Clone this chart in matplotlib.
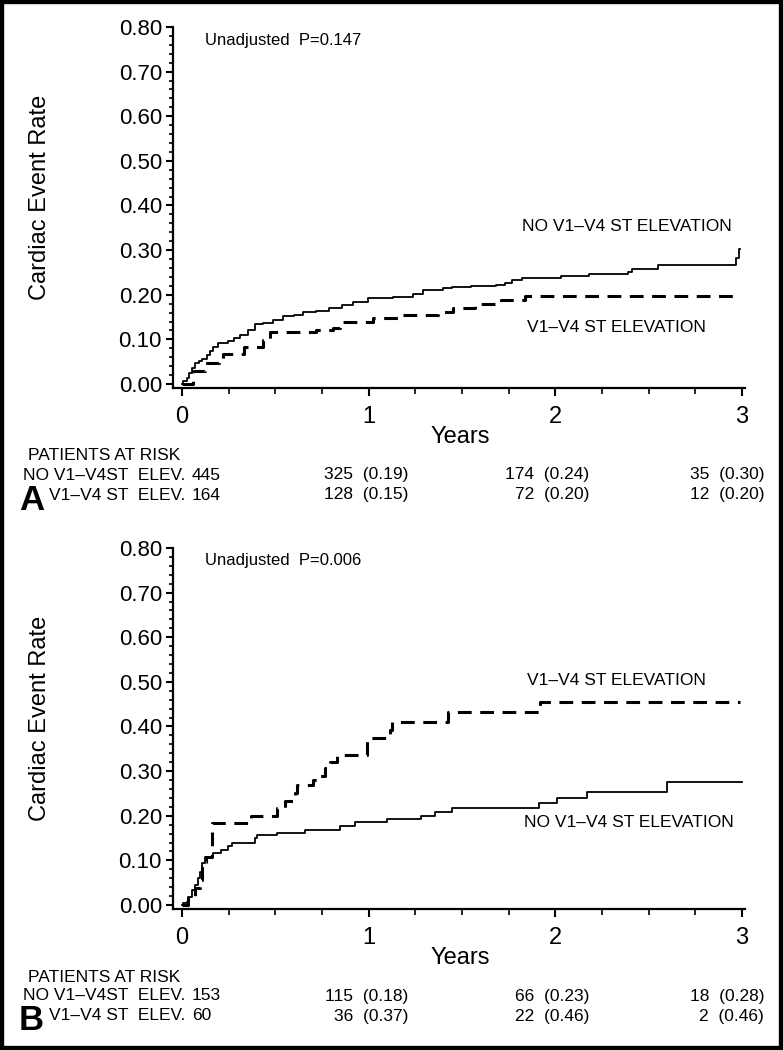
import matplotlib
matplotlib.use('Agg')
import matplotlib.pyplot as plt
from matplotlib.patches import Rectangle
from matplotlib.ticker import MultipleLocator, FormatStrFormatter

plt.rcParams['font.family'] = ['Liberation Sans', 'DejaVu Sans']

# Panel A curves (years, cumulative event rate)
a_no_t = [0, 0.007, 0.025, 0.04, 0.052, 0.07, 0.09, 0.105, 0.132, 0.15, 0.168, 0.195,
          0.248, 0.28, 0.31, 0.355, 0.39, 0.435, 0.49, 0.543, 0.60, 0.65, 0.72, 0.79,
          0.855, 0.918, 0.998, 1.13, 1.24, 1.29, 1.40, 1.445, 1.55, 1.68, 1.73, 1.77,
          1.82, 2.03, 2.18, 2.39, 2.41, 2.55, 2.97, 2.985, 2.99]
a_no_r = [0, 0.006, 0.013, 0.025, 0.035, 0.046, 0.052, 0.056, 0.065, 0.075, 0.084, 0.091,
          0.096, 0.103, 0.11, 0.121, 0.134, 0.137, 0.143, 0.152, 0.155, 0.162, 0.164, 0.17,
          0.177, 0.183, 0.192, 0.196, 0.201, 0.211, 0.214, 0.217, 0.22, 0.222, 0.227, 0.233,
          0.238, 0.242, 0.247, 0.251, 0.257, 0.266, 0.282, 0.302, 0.302]
a_st_t = [0, 0.06, 0.123, 0.2, 0.22, 0.33, 0.435, 0.47, 0.72, 0.81, 0.846, 1.025, 1.16,
          1.37, 1.45, 1.57, 1.71, 1.84, 2.99]
a_st_r = [0, 0.028, 0.048, 0.054, 0.067, 0.084, 0.099, 0.117, 0.121, 0.125, 0.14, 0.147,
          0.155, 0.162, 0.17, 0.179, 0.188, 0.198, 0.198]

# Panel B curves
b_no_t = [0, 0.007, 0.025, 0.034, 0.052, 0.07, 0.087, 0.096, 0.105, 0.123, 0.168, 0.21,
          0.248, 0.266, 0.39, 0.40, 0.507, 0.66, 0.846, 0.927, 1.096, 1.28, 1.355, 1.445,
          1.91, 2.01, 2.17, 2.60, 3.0]
b_no_r = [0, 0.004, 0.007, 0.019, 0.034, 0.045, 0.06, 0.075, 0.093, 0.107, 0.116, 0.123,
          0.132, 0.138, 0.15, 0.157, 0.162, 0.168, 0.176, 0.185, 0.192, 0.2, 0.209, 0.218,
          0.228, 0.239, 0.254, 0.276, 0.276]
b_st_t = [0, 0.034, 0.07, 0.096, 0.105, 0.13, 0.16, 0.37, 0.507, 0.55, 0.605, 0.614,
          0.703, 0.74, 0.766, 0.793, 0.829, 0.99, 1.114, 1.123, 1.427, 1.917, 2.99]
b_st_r = [0, 0.019, 0.037, 0.056, 0.097, 0.108, 0.183, 0.2, 0.217, 0.234, 0.252, 0.269,
          0.28, 0.288, 0.306, 0.321, 0.336, 0.374, 0.392, 0.41, 0.433, 0.456, 0.456]

# patients at risk at 0, 1, 2, 3 years and event rate at 1, 2, 3 years
a_no_n = [445, 325, 174, 35]
a_no_p = [0.19, 0.24, 0.30]
a_st_n = [164, 128, 72, 12]
a_st_p = [0.15, 0.20, 0.20]
b_no_n = [153, 115, 66, 18]
b_no_p = [0.18, 0.23, 0.28]
b_st_n = [60, 36, 22, 2]
b_st_p = [0.37, 0.46, 0.46]

p_values = ['0.147', '0.006']
letters = ['A', 'B']
no_label = 'NO V1\u2013V4 ST ELEVATION'
st_label = 'V1\u2013V4 ST ELEVATION'

W, H = 783, 1050
fig = plt.figure(figsize=(W / 100, H / 100), dpi=100)


def fx(x):
    return x / W


def fy(y):
    return 1 - y / H


def panel(off, letter, pval, no_t, no_r, st_t, st_r, no_xy, st_xy,
          no_n, no_p, st_n, st_p):
    ax = fig.add_axes([fx(173), fy(388 + off), 572 / W, 361 / H])
    ax.step(no_t, no_r, where='post', color='black', lw=1.3)
    ax.step(st_t, st_r, where='post', color='black', lw=2.2,
            linestyle=(0, (4.5, 2.8)))
    ax.set_xlim(-0.048, 3.016)
    ax.set_ylim(-0.009, 0.80)
    for s in ['top', 'right']:
        ax.spines[s].set_visible(False)
    for s in ['left', 'bottom']:
        ax.spines[s].set_linewidth(1.6)
    ax.xaxis.set_major_locator(MultipleLocator(1))
    ax.xaxis.set_minor_locator(MultipleLocator(0.25))
    ax.yaxis.set_major_locator(MultipleLocator(0.1))
    ax.yaxis.set_minor_locator(MultipleLocator(0.02))
    ax.yaxis.set_major_formatter(FormatStrFormatter('%.2f'))
    ax.tick_params(axis='x', which='major', length=6, width=1.5, labelsize=17, pad=7)
    ax.tick_params(axis='x', which='minor', length=4, width=1.2)
    ax.tick_params(axis='y', which='major', length=5, width=1.5, labelsize=16, pad=3)
    ax.tick_params(axis='y', which='minor', length=3, width=1.2)

    ax.text(no_xy[0], no_xy[1], no_label, fontsize=12.5, va='center')
    ax.text(st_xy[0], st_xy[1], st_label, fontsize=12.5, va='center')

    fig.text(fx(205), fy(40 + off), 'Unadjusted  P=' + pval, fontsize=12, va='center')
    fig.text(fx(40), fy(197 + off), 'Cardiac Event Rate', fontsize=17,
             rotation=90, ha='center', va='center')
    fig.text(fx(460), fy(437 + off), 'Years', fontsize=17, ha='center', va='center')

    # patients at risk table
    fig.text(fx(28), fy(456 + off), 'PATIENTS AT RISK', fontsize=12.5, va='center')
    fig.text(fx(185), fy(475 + off), 'NO V1\u2013V4ST  ELEV.', fontsize=12.5,
             ha='right', va='center')
    fig.text(fx(185), fy(495 + off), 'V1\u2013V4 ST  ELEV.', fontsize=12.5,
             ha='right', va='center')
    fig.text(fx(192), fy(475 + off), str(no_n[0]), fontsize=12.5, va='center')
    fig.text(fx(192), fy(495 + off), str(st_n[0]), fontsize=12.5, va='center')
    for i, xr in enumerate([408, 589, 764]):
        fig.text(fx(xr), fy(475 + off), '%d  (%.2f)' % (no_n[i + 1], no_p[i]),
                 fontsize=12.5, ha='right', va='center')
        fig.text(fx(xr), fy(495 + off), '%d  (%.2f)' % (st_n[i + 1], st_p[i]),
                 fontsize=12.5, ha='right', va='center')
    fig.text(fx(19), fy(500 + off), letter, fontsize=25, fontweight='bold',
             va='center')


panel(0, letters[0], p_values[0], a_no_t, a_no_r, a_st_t, a_st_r,
      (1.82, 0.352), (1.85, 0.126), a_no_n, a_no_p, a_st_n, a_st_p)
panel(521, letters[1], p_values[1], b_no_t, b_no_r, b_st_t, b_st_r,
      (1.83, 0.184), (1.85, 0.504), b_no_n, b_no_p, b_st_n, b_st_p)

fig.add_artist(Rectangle((0, 0), 1, 1, transform=fig.transFigure, fill=False,
                         lw=6, ec='black'))

fig.savefig('out.png', dpi=100)
